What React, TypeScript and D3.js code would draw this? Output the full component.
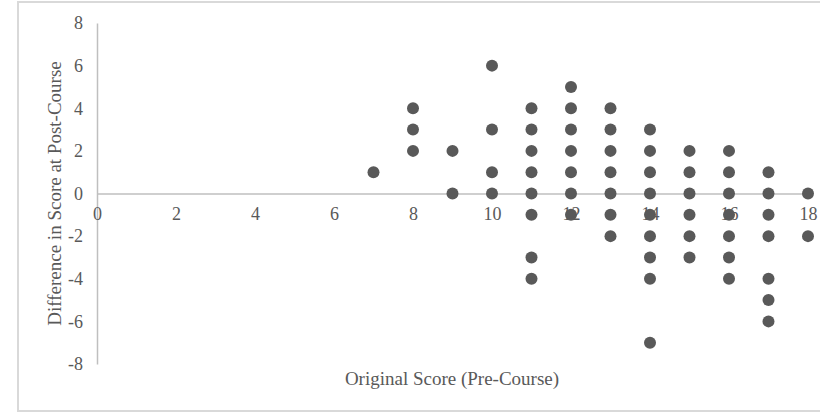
import React, { useEffect, useRef } from 'react';
import * as d3 from 'd3';

// original score (pre-course) -> differences observed at post-course
const preScores = [7, 8, 9, 10, 11, 12, 13, 14, 15, 16, 17, 18];
const diffs7 = [1];
const diffs8 = [2, 3, 4];
const diffs9 = [0, 2];
const diffs10 = [0, 1, 3, 6];
const diffs11 = [4, 3, 2, 1, 0, -1, -3, -4];
const diffs12 = [5, 4, 3, 2, 1, 0, -1];
const diffs13 = [4, 3, 2, 1, 0, -1, -2];
const diffs14 = [3, 2, 1, 0, -1, -2, -3, -4, -7];
const diffs15 = [2, 1, 0, -1, -2, -3];
const diffs16 = [2, 1, 0, -1, -2, -3, -4];
const diffs17 = [1, 0, -1, -2, -4, -5, -6];
const diffs18 = [0, -2];
const diffsByScore = [diffs7, diffs8, diffs9, diffs10, diffs11, diffs12, diffs13, diffs14, diffs15, diffs16, diffs17, diffs18];

const xTicks = [0, 2, 4, 6, 8, 10, 12, 14, 16, 18];
const yTicks = [-8, -6, -4, -2, 0, 2, 4, 6, 8];

const xTitle = 'Original Score (Pre-Course)';
const yTitle = 'Difference in Score at Post-Course';

export default function App() {
    const svgRef = useRef<SVGSVGElement>(null);

    useEffect(() => {
        const svg = d3.select(svgRef.current);
        svg.selectAll('*').remove();

        const W = 820;
        const H = 415;
        const font = '"Liberation Serif", "Times New Roman", serif';
        const textColor = '#595959';
        const plain = (d) => String(d); // keep ASCII hyphen for negatives

        svg.attr('width', W).attr('height', H);

        // chart area frame
        svg.append('rect')
            .attr('x', 18).attr('y', 2)
            .attr('width', W + 10).attr('height', 409)
            .attr('fill', '#fff')
            .attr('stroke', '#d9d9d9')
            .attr('stroke-width', 2);

        const x = d3.scaleLinear().domain([0, 18]).range([97, 808]);
        const y = d3.scaleLinear().domain([-8, 8]).range([364, 23]);

        const points = preScores.flatMap((s, i) => diffsByScore[i].map((d) => ({ s, d })));

        // y axis
        const yAxis = svg.append('g')
            .attr('transform', `translate(${x(0)},0)`)
            .call(d3.axisLeft(y).tickValues(yTicks).tickSize(0).tickPadding(14).tickFormat(plain));
        yAxis.select('.domain').attr('stroke', '#bfbfbf').attr('stroke-width', 1.5);
        yAxis.selectAll('text')
            .style('font-family', font).style('font-size', '18px').attr('fill', textColor);

        // x axis crossing at zero
        const xAxis = svg.append('g')
            .attr('transform', `translate(0,${y(0)})`)
            .call(d3.axisBottom(x).tickValues(xTicks).tickSize(0).tickPadding(14).tickFormat(plain));
        xAxis.select('.domain').attr('stroke', '#bfbfbf').attr('stroke-width', 1.5);
        xAxis.selectAll('text')
            .style('font-family', font).style('font-size', '18px').attr('fill', textColor);

        // points
        svg.append('g')
            .selectAll('circle')
            .data(points)
            .enter()
            .append('circle')
            .attr('cx', (p) => x(p.s))
            .attr('cy', (p) => y(p.d))
            .attr('r', 6)
            .attr('fill', '#595959');

        // titles
        svg.append('text')
            .attr('x', 452).attr('y', 385)
            .attr('text-anchor', 'middle')
            .style('font-family', font).style('font-size', '19px')
            .attr('fill', textColor)
            .text(xTitle);

        svg.append('text')
            .attr('transform', `translate(61,${y(0)}) rotate(-90)`)
            .attr('text-anchor', 'middle')
            .style('font-family', font).style('font-size', '19px')
            .attr('fill', textColor)
            .text(yTitle);
    }, []);

    return (
        <div style={{ position: 'absolute', left: 0, top: 0 }}>
            <svg ref={svgRef} style={{ display: 'block' }} />
        </div>
    );
}
